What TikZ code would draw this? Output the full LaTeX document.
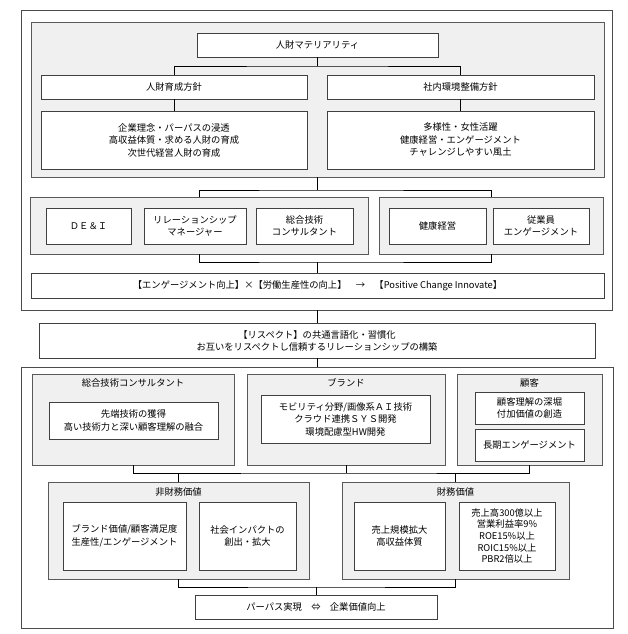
\documentclass[tikz,border=0pt]{standalone}
\usepackage{fontspec}
\setmainfont{Noto Sans CJK JP}
\usetikzlibrary{positioning, calc}

\begin{document}
\begin{tikzpicture}[x=1pt,y=-1pt,
  every node/.style={font=\fontsize{9.3}{12.5}\selectfont},
  wbox/.style={draw=black!75,fill=white,line width=0.8pt,inner sep=0pt,outer sep=0pt,align=center},
  gbox/.style={draw=black!65,fill=black!6,line width=0.9pt,inner sep=0pt,outer sep=0pt},
  conn/.style={draw=black,line width=0.7pt}]
\fill[white] (0,0) rectangle (627,634);
\useasboundingbox (0,0) rectangle (627,634);
% Upper frame: materiality and policies
\node[wbox,draw=black!70,minimum width=591,minimum height=300] (out1) at (317,160) {};
\node[gbox,minimum width=573,minimum height=155] (pol) at (317.5,99.5) {};
\node[wbox,minimum width=241,minimum height=24] (mat) at (317.5,45) {人財マテリアリティ};
\node[wbox,minimum width=266,minimum height=24] (ikusei) at (174,87) {人財育成方針};
\node[wbox,minimum width=267,minimum height=24] (kankyo) at (460.5,87) {社内環境整備方針};
\node[wbox,minimum width=266,minimum height=58] (ikuseiN) at (174,140) {企業理念・パーパスの浸透\\高収益体質・求める人財の育成\\次世代経営人財の育成};
\node[wbox,minimum width=267,minimum height=58] (kankyoN) at (460.5,140) {多様性・女性活躍\\健康経営・エンゲージメント\\チャレンジしやすい風土};
\path (mat.south) ++(0,9) coordinate (j1);
\draw[conn] (mat.south) -- (j1);
\draw[conn] (ikusei.north) |- (j1) -| (kankyo.north);
\draw[conn] (ikusei.south) -- (ikuseiN.north);
\draw[conn] (kankyo.south) -- (kankyoN.north);
% Measures
\node[gbox,minimum width=338,minimum height=57] (grpL) at (199,225.5) {};
\node[gbox,minimum width=224,minimum height=57] (grpR) at (491,225.5) {};
\node[wbox,minimum width=85,minimum height=36] (dei) at (88.5,226) {ＤＥ＆Ｉ};
\node[wbox,minimum width=102,minimum height=36] (relman) at (195,226) {リレーションシップ\\マネージャー};
\node[wbox,minimum width=97,minimum height=36] (cons) at (304.5,226) {総合技術\\コンサルタント};
\node[wbox,minimum width=97,minimum height=36] (kenko) at (437.5,226) {健康経営};
\node[wbox,minimum width=96,minimum height=36] (jugyo) at (541,226) {従業員\\エンゲージメント};
\node[wbox,minimum width=573,minimum height=25] (eng) at (317.5,285.5) {【エンゲージメント向上】×【労働生産性の向上】　→　【Positive Change Innovate】};
\path (pol.south) ++(0,13) coordinate (j2);
\draw[conn] (pol.south) -- (j2);
\draw[conn] (grpL.north) |- (j2) -| (grpR.north);
\path (eng.north) ++(0,-11) coordinate (j3);
\draw[conn] (grpL.south) |- (j3) -| (grpR.south);
\draw[conn] (j3) -- (eng.north);
% Respect
\node[wbox,minimum width=556,minimum height=35,font=\fontsize{9.3}{12}\selectfont] (resp) at (317,340.5) {【リスペクト】の共通言語化・習慣化\\お互いをリスペクトし信頼するリレーションシップの構築};
\node[wbox,draw=black!70,minimum width=592,minimum height=261] (out2) at (317,497.5) {};
\draw[conn] (out1.south) -- (resp.north);
\draw[conn] (resp.south) -- (out2.north);
% Lower frame: strengths
\node[gbox,minimum width=202,minimum height=91] (gCons) at (133,419.5) {};
\node[gbox,minimum width=198,minimum height=91] (gBrand) at (346,419.5) {};
\node[gbox,minimum width=145,minimum height=91] (gCust) at (529.5,419.5) {};
\node (gConsT) at (133,383) {総合技術コンサルタント};
\node (gBrandT) at (346,383) {ブランド};
\node (gCustT) at (529.5,383) {顧客};
\node[wbox,minimum width=169,minimum height=37] (consIn) at (133.5,420.5) {先端技術の獲得\\高い技術力と深い顧客理解の融合};
\node[wbox,minimum width=169,minimum height=48] (brandIn) at (345.5,419) {モビリティ分野/画像系ＡＩ技術\\クラウド連携ＳＹＳ開発\\環境配慮型HW開発};
\node[wbox,minimum width=109,minimum height=32] (custA) at (529.5,408) {顧客理解の深堀\\付加価値の創造};
\node[wbox,minimum width=109,minimum height=32] (custB) at (529.5,445) {長期エンゲージメント};
% Values
\node[gbox,minimum width=261,minimum height=97] (gNon) at (178.5,530.5) {};
\node[gbox,minimum width=227,minimum height=97] (gFin) at (455.5,530.5) {};
\node (gNonT) at (178.5,492) {非財務価値};
\node (gFinT) at (455.5,492) {財務価値};
\node[wbox,minimum width=123,minimum height=68] (nonA) at (124.5,536) {ブランド価値/顧客満足度\\生産性/エンゲージメント};
\node[wbox,minimum width=97,minimum height=68] (nonB) at (247.5,536) {社会インパクトの\\創出・拡大};
\node[wbox,minimum width=91,minimum height=68] (finA) at (399.5,536) {売上規模拡大\\高収益体質};
\node[wbox,minimum width=96,minimum height=68,font=\fontsize{9.3}{11.7}\selectfont] (finB) at (507,536) {売上高300億以上\\営業利益率9\%\\ROE15\%以上\\ROIC15\%以上\\PBR2倍以上};
\path (gBrand.south) ++(0,8) coordinate (j4);
\draw[conn] (gCons.south) |- (j4) -| (gCust.south);
\draw[conn] (gBrand.south) -- (j4);
\draw[conn] (gNon.north) -- (gNon.north |- j4);
\draw[conn] (gFin.north) -- (gFin.north |- j4);
% Purpose
\node[wbox,minimum width=242,minimum height=24] (purp) at (316,607) {パーパス実現　⇔　企業価値向上};
\path (purp.north) ++(0,-8) coordinate (j5);
\draw[conn] (gNon.south) |- (j5) -| (gFin.south);
\draw[conn] (j5) -- (purp.north);
\end{tikzpicture}
\end{document}
